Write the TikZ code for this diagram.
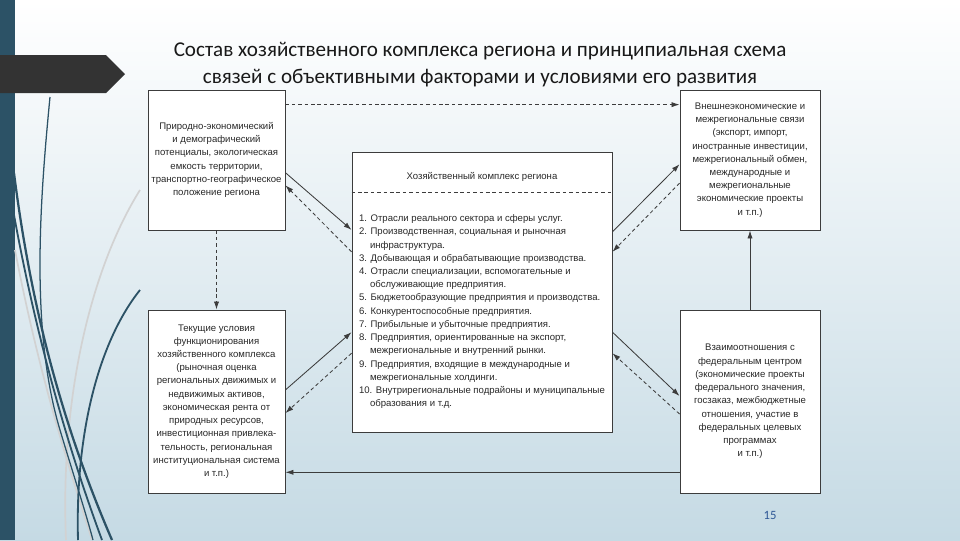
\documentclass[tikz,border=0pt]{standalone}
\usepackage{fontspec}
\setmainfont{Liberation Sans}
\newfontfamily\titlefont{Carlito}
\usepackage{tikz}
\usetikzlibrary{positioning,arrows.meta,calc}
\definecolor{barteal}{RGB}{44,82,102}
\definecolor{tabgray}{RGB}{51,51,51}
\definecolor{bgblue}{RGB}{197,218,228}
\definecolor{boxline}{RGB}{60,60,60}
\definecolor{boxtext}{RGB}{40,40,40}
\definecolor{pageblue}{RGB}{47,88,150}

\begin{document}
\begin{tikzpicture}[x=0.025cm, y=-0.025cm,
  box/.style={draw=boxline, fill=white, line width=0.6pt, align=center, text=boxtext, font=\fontsize{6.8}{9.4}\selectfont, inner sep=0pt},
  conn/.style={draw=boxline, line width=0.6pt},
  tip/.style={-{Latex[length=2mm,width=1.3mm]}},
  dashln/.style={dash pattern=on 0.9mm off 0.7mm},
  deco/.style={barteal, line width=1.3pt},
  decolight/.style={gray!35, line width=1.2pt}]
\useasboundingbox (0,0) rectangle (960,540);
\shade[top color=white, bottom color=bgblue] (0,0) rectangle (960,540);
\fill[barteal] (0,0) rectangle (15,540);
\fill[tabgray] (0,55) -- (106,55) -- (125,74) -- (106,93) -- (0,93) -- cycle;

\draw[decolight] (140,190) .. controls (90,270) and (60,400) .. (66,540);
\draw[decolight] (15,250) .. controls (40,380) and (70,470) .. (92,540);
\draw[deco, line width=0.9pt] (50,97) .. controls (40,200) and (30,330) .. (60,430) .. controls (75,480) and (85,510) .. (93,540);
\draw[deco, line width=1.6pt] (14,173) .. controls (30,300) and (60,420) .. (112,540);
\draw[deco] (14,215) .. controls (35,330) and (65,440) .. (102,540);
\draw[deco] (140,290) .. controls (100,340) and (75,430) .. (78,540);

\node[align=center, font=\titlefont\fontsize{15}{19.3}\selectfont, text=black!90] (ttl) at (480,65) {Состав хозяйственного комплекса региона и принципиальная схема\\связей с объективными факторами и условиями его развития};

\node[box, minimum width=3.425cm, minimum height=3.5cm] (tl) at (216.5,160) {Природно-экономический\\и демографический\\потенциалы, экологическая\\емкость территории,\\транспортно-географическое\\положение региона};
\node[box, minimum width=3.5cm, minimum height=3.5cm] (tr) at (750,160) {Внешнеэкономические и\\межрегиональные связи\\(экспорт, импорт,\\иностранные инвестиции,\\межрегиональный обмен,\\международные и\\межрегиональные\\экономические проекты\\и т.п.)};
\node[box, minimum width=3.425cm, minimum height=4.575cm] (bl) at (216.5,401.5) {Текущие условия\\функционирования\\хозяйственного комплекса\\(рыночная оценка\\региональных движимых и\\недвижимых активов,\\экономическая рента от\\природных ресурсов,\\инвестиционная привлека-\\тельность, региональная\\институциональная система\\и т.п.)};
\node[box, minimum width=3.5cm, minimum height=4.575cm] (br) at (750,401.5) {Взаимоотношения с\\федеральным центром\\(экономические проекты\\федерального значения,\\госзаказ, межбюджетные\\отношения, участие в\\федеральных целевых\\программах\\и т.п.)};

\node[box, minimum width=6.5cm, minimum height=7cm] (cx) at (482,292) {};
\node[box, draw=none, fill=none] (hdr) at ($(cx.north)!0.089!(cx.south)$) {Хозяйственный комплекс региона};
\draw[conn, dashln] ($(cx.north west)!0.146!(cx.south west)$) -- ($(cx.north east)!0.146!(cx.south east)$);
\node[box, draw=none, fill=none, align=left, font=\fontsize{6.8}{9.4}\selectfont, below=0.82cm of hdr] (lst) {1. Отрасли реального сектора и сферы услуг.\\2. Производственная, социальная и рыночная\\\hspace*{1.15em}инфраструктура.\\3. Добывающая и обрабатывающие производства.\\4. Отрасли специализации, вспомогательные и\\\hspace*{1.15em}обслуживающие предприятия.\\5. Бюджетообразующие предприятия и производства.\\6. Конкурентоспособные предприятия.\\7. Прибыльные и убыточные предприятия.\\8. Предприятия, ориентированные на экспорт,\\\hspace*{1.15em}межрегиональные и внутренний рынки.\\9. Предприятия, входящие в международные и\\\hspace*{1.15em}межрегиональные холдинги.\\10. Внутрирегиональные подрайоны и муниципальные\\\hspace*{1.15em}образования и т.д.};

\draw[conn, dashln, tip] ($(tl.north east)!0.107!(tl.south east)$) -- ($(tr.north west)!0.107!(tr.south west)$);
\draw[conn, dashln, tip] (tl.south) -- (bl.north);
\draw[conn, tip] (br.north) -- (tr.south);
\draw[conn, tip] ($(br.north west)!0.885!(br.south west)$) -- ($(bl.north east)!0.885!(bl.south east)$);

\draw[conn, tip] ($(tl.north east)!0.59!(tl.south east)$) -- ($(cx.north west)!0.279!(cx.south west)$);
\draw[conn, dashln, tip] ($(cx.north west)!0.357!(cx.south west)$) -- ($(tl.north east)!0.68!(tl.south east)$);
\draw[conn, tip] ($(cx.north east)!0.286!(cx.south east)$) -- ($(tr.north west)!0.53!(tr.south west)$);
\draw[conn, dashln, tip] ($(tr.north west)!0.664!(tr.south west)$) -- ($(cx.north east)!0.357!(cx.south east)$);
\draw[conn, tip] ($(bl.north east)!0.437!(bl.south east)$) -- ($(cx.north west)!0.643!(cx.south west)$);
\draw[conn, dashln, tip] ($(cx.north west)!0.718!(cx.south west)$) -- ($(bl.north east)!0.563!(bl.south east)$);
\draw[conn, tip] ($(cx.north east)!0.643!(cx.south east)$) -- ($(br.north west)!0.47!(br.south west)$);
\draw[conn, dashln, tip] ($(br.north west)!0.568!(br.south west)$) -- ($(cx.north east)!0.718!(cx.south east)$);

\node[font=\titlefont\fontsize{9}{11}\selectfont, text=pageblue] (pg) at (770,515) {15};
\end{tikzpicture}
\end{document}
